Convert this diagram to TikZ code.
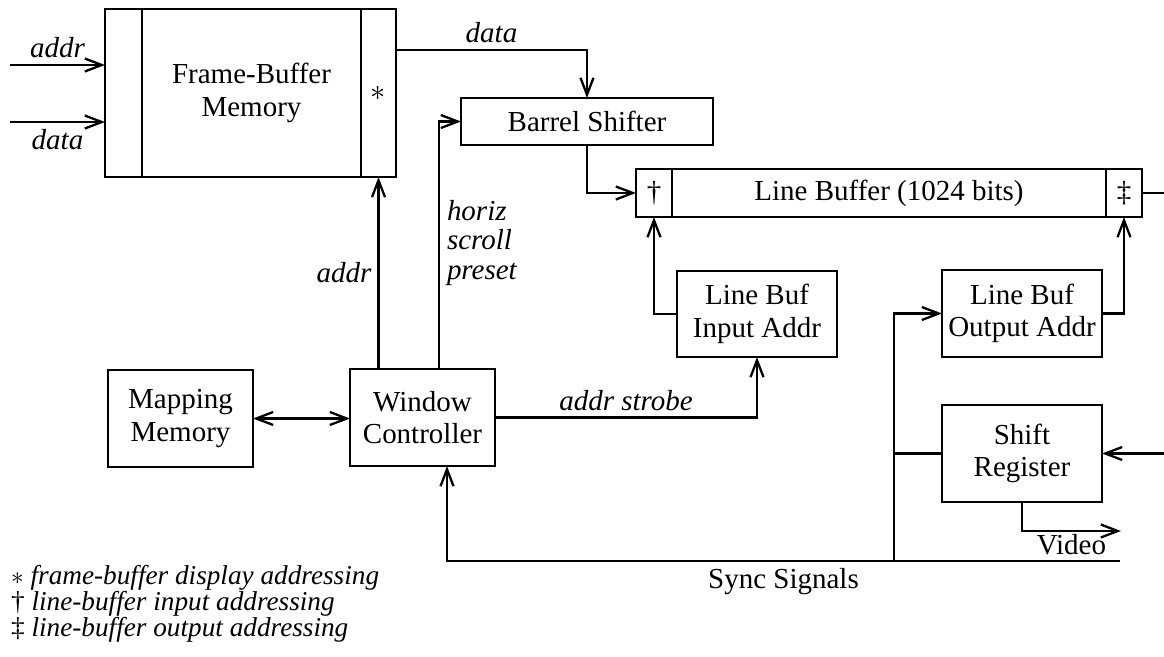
\documentclass[tikz,border=0pt]{standalone}
\usepackage{amssymb}
\usepackage{fontspec}
\setmainfont{Liberation Serif}
\usetikzlibrary{arrows.meta,calc}

\begin{document}
\begin{tikzpicture}[line width=1.3pt,
    >={Straight Barb[length=3.4mm,width=2.6mm]},
    every node/.style={font=\fontsize{16.5}{18.5}\selectfont},
    box/.style={draw, inner sep=0pt, outer sep=0pt, align=center},
    sig/.style={font=\fontsize{16.5}{17}\selectfont\itshape, align=left},
    note/.style={font=\fontsize{15.5}{16}\selectfont\itshape, anchor=west, inner sep=0pt}]

    \useasboundingbox (0,0) rectangle (23.28,13.12);

    % frame buffer and its two address columns
    \node[box, minimum width=4.38cm, minimum height=3.36cm] (1) at (5.03,11.26) {Frame-Buffer\\Memory};
    \node[box, minimum width=0.74cm, minimum height=3.36cm, anchor=east] (1l) at (1.west) {};
    \node[box, minimum width=0.70cm, minimum height=3.36cm, anchor=west] (1r) at (1.east) {$\ast$};

    \node[box, minimum width=5.04cm, minimum height=0.94cm] (2) at (11.74,10.69) {Barrel Shifter};

    % line buffer with input / output address cells
    \node[box, minimum width=8.68cm, minimum height=0.96cm] (3) at (17.78,9.26) {Line Buffer (1024 bits)};
    \node[box, minimum width=0.72cm, minimum height=0.96cm, anchor=east] (3l) at (3.west) {\textdagger};
    \node[box, minimum width=0.72cm, minimum height=0.96cm, anchor=west] (3r) at (3.east) {\textdaggerdbl};

    \node[box, minimum width=3.2cm, minimum height=1.72cm] (4) at (15.14,6.84) {Line Buf\\Input Addr};
    \node[box, minimum width=3.2cm, minimum height=1.74cm] (5) at (20.44,6.85) {Line Buf\\Output Addr};
    \node[box, minimum width=2.9cm, minimum height=1.94cm] (6) at (3.61,4.75) {Mapping\\Memory};
    \node[box, minimum width=2.9cm, minimum height=1.94cm] (7) at (8.45,4.77) {Window\\Controller};
    \node[box, minimum width=3.2cm, minimum height=1.94cm] (8) at (20.44,4.05) {Shift\\Register};

    % loose ends
    \coordinate (ai) at (0.2,11.82);
    \coordinate (di) at (0.2,10.68);
    \coordinate (lo) at (23.28,9.26);
    \coordinate (si) at (23.28,4.05);
    \coordinate (vo) at (22.42,2.5);
    \coordinate (se) at (22.4,1.9);
    \coordinate (st) at (17.88,1.9);

    \draw[->] (ai) -- node (l1) [sig, above] {addr} (ai -| 1l.west);
    \draw[->] (di) -- node (l2) [sig, below] {data} (di -| 1l.west);
    \draw[->] ($(1r.north east)+(0,-0.82)$) -| node (l3) [sig, pos=0.25, above] {data} (2.north);
    \draw[->] (1r.south |- 7.north) -- node (l4) [sig, left] {addr} (1r.south);
    \draw[->] ($(7.north)+(0.33,0)$) |- (2.west);
    \node (l5) [sig, anchor=west] at (8.8,8.26) {horiz\\scroll\\preset};

    \draw[->] (2.south) |- (3l.west);
    \draw[->] (4.west) -| (3l.south);
    \draw[->] (5.east) -| (3r.south);
    \draw (3r.east) -- (lo);
    \draw[<->] (6.east) -- (6.east -| 7.west);
    \draw[->] (7.east) -| node (l6) [sig, pos=0.25, above] {addr strobe} (4.south);
    \draw[->] (si) -- (8.east);
    \draw[->] (8.south) |- node (l7) [pos=0.75, below, inner sep=1pt] {Video} (vo);
    \draw[->] (se) -| node (l8) [pos=0.25, below] {Sync Signals} ($(7.south)+(0.49,0)$);
    \draw[->] (st) |- (5.west);
    \draw (st |- 8.west) -- (8.west);

    % footnotes
    \node (n1) [note] at (0.2,1.56) {$\ast$ frame-buffer display addressing};
    \node (n2) [note] at (0.2,1.04) {{\upshape\textdagger} line-buffer input addressing};
    \node (n3) [note] at (0.2,0.52) {{\upshape\textdaggerdbl} line-buffer output addressing};
\end{tikzpicture}
\end{document}
